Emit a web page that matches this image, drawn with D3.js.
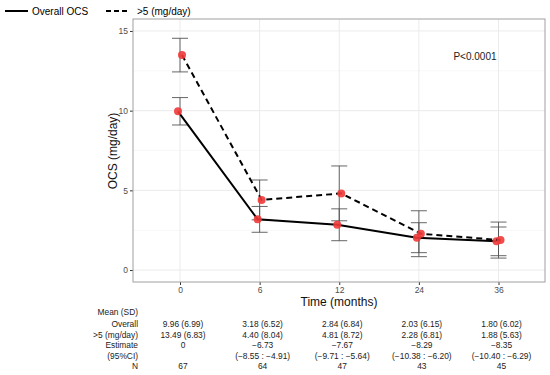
<!DOCTYPE html>
<html>
<head>
<meta charset="utf-8">
<script src="https://cdnjs.cloudflare.com/ajax/libs/d3/7.8.5/d3.min.js"></script>
<style>
  body { margin: 0; background: #fff; }
  text { font-family: "Liberation Sans", Arial, sans-serif; }
</style>
</head>
<body>
<div id="chart"></div>
<script>
// data
var months = ["0", "6", "12", "24", "36"];
var overallMean = [9.96, 3.18, 2.84, 2.03, 1.80];
var overallLo = [9.10, 2.37, 1.84, 1.09, 0.90];
var overallHi = [10.82, 3.99, 3.84, 2.97, 2.70];
var highMean = [13.49, 4.40, 4.81, 2.28, 1.88];
var highLo = [12.43, 3.15, 3.09, 0.84, 0.75];
var highHi = [14.54, 5.65, 6.53, 3.72, 3.01];
var yTicks = [0, 5, 10, 15];
var yMinor = [2.5, 7.5, 12.5];

// table under the plot
var rowLabels = ["Mean (SD)", "Overall", ">5 (mg/day)", "Estimate", "(95%CI)", "N"];
var overallCol = ["9.96 (6.99)", "3.18 (6.52)", "2.84 (6.84)", "2.03 (6.15)", "1.80 (6.02)"];
var highCol = ["13.49 (6.83)", "4.40 (8.04)", "4.81 (8.72)", "2.28 (6.81)", "1.88 (5.63)"];
var estimateCol = ["0", "\u22126.73", "\u22127.67", "\u22128.29", "\u22128.35"];
var ciCol = ["", "(\u22128.55 : \u22124.91)", "(\u22129.71 : \u22125.64)", "(\u221210.38 : \u22126.20)", "(\u221210.40 : \u22126.29)"];
var nCol = ["67", "64", "47", "43", "45"];

var width = 550;
var height = 375;
var pLeft = 133, pRight = 545, pTop = 19, pBottom = 282;

var svg = d3.select('#chart')
  .append('svg')
  .attr('width', width)
  .attr('height', height);

var x = d3.scalePoint()
  .domain(months)
  .range([180, 498.5]);

var y = d3.scaleLinear()
  .domain([-0.75, 15.75])
  .range([pBottom, pTop]);

// grid
var grid = svg.append('g');
grid.selectAll('.minor')
  .data(yMinor)
  .enter()
  .append('line')
  .attr('x1', pLeft).attr('x2', pRight)
  .attr('y1', function(d) { return y(d); })
  .attr('y2', function(d) { return y(d); })
  .attr('stroke', '#f2f2f2')
  .attr('stroke-width', 0.6);
grid.selectAll('.major')
  .data(yTicks)
  .enter()
  .append('line')
  .attr('x1', pLeft).attr('x2', pRight)
  .attr('y1', function(d) { return y(d); })
  .attr('y2', function(d) { return y(d); })
  .attr('stroke', '#ebebeb')
  .attr('stroke-width', 1);
grid.selectAll('.vert')
  .data(months)
  .enter()
  .append('line')
  .attr('x1', function(d) { return x(d); })
  .attr('x2', function(d) { return x(d); })
  .attr('y1', pTop).attr('y2', pBottom)
  .attr('stroke', '#ebebeb')
  .attr('stroke-width', 1);

// axes
var yAxis = svg.append('g')
  .attr('transform', 'translate(' + pLeft + ',0)')
  .call(d3.axisLeft(y).tickValues(yTicks).tickSize(3).tickPadding(2));
var xAxis = svg.append('g')
  .attr('transform', 'translate(0,' + pBottom + ')')
  .call(d3.axisBottom(x).tickSize(3).tickPadding(2));
[yAxis, xAxis].forEach(function(a) {
  a.select('.domain').remove();
  a.selectAll('line').attr('stroke', '#333');
  a.selectAll('text')
    .attr('fill', '#4d4d4d')
    .style('font-size', '8.5px')
    .style('font-family', '"Liberation Sans", Arial, sans-serif');
});

svg.append('rect')
  .attr('x', pLeft).attr('y', pTop)
  .attr('width', pRight - pLeft).attr('height', pBottom - pTop)
  .attr('fill', 'none')
  .attr('stroke', '#a0a0a0')
  .attr('stroke-width', 1);

// error bars
function errorBars(lo, hi) {
  var g = svg.append('g').attr('stroke', '#555').attr('stroke-width', 0.9);
  months.forEach(function(m, i) {
    var cx = x(m);
    g.append('line').attr('x1', cx).attr('x2', cx).attr('y1', y(lo[i])).attr('y2', y(hi[i]));
    g.append('line').attr('x1', cx - 8).attr('x2', cx + 8).attr('y1', y(lo[i])).attr('y2', y(lo[i]));
    g.append('line').attr('x1', cx - 8).attr('x2', cx + 8).attr('y1', y(hi[i])).attr('y2', y(hi[i]));
  });
}
errorBars(overallLo, overallHi);
errorBars(highLo, highHi);

function drawSeries(values, shift, dash) {
  var line = d3.line()
    .x(function(d, i) { return x(months[i]) + shift; })
    .y(function(d) { return y(d); });
  svg.append('path')
    .datum(values)
    .attr('d', line)
    .attr('fill', 'none')
    .attr('stroke', '#000')
    .attr('stroke-width', 2)
    .attr('stroke-dasharray', dash);
  svg.selectAll(null)
    .data(values)
    .enter()
    .append('circle')
    .attr('cx', function(d, i) { return x(months[i]) + shift; })
    .attr('cy', function(d) { return y(d); })
    .attr('r', 4)
    .attr('fill', '#f03a3a')
    .attr('fill-opacity', 0.9);
}
drawSeries(overallMean, -2, null);
drawSeries(highMean, 2, '6,4');

svg.append('text')
  .attr('x', 475).attr('y', 60)
  .attr('text-anchor', 'middle')
  .style('font-size', '10px')
  .attr('fill', '#222')
  .text('P<0.0001');

// titles
svg.append('text')
  .attr('x', (pLeft + pRight) / 2).attr('y', 305.5)
  .attr('text-anchor', 'middle')
  .style('font-size', '12px')
  .attr('fill', '#111')
  .text('Time (months)');
svg.append('text')
  .attr('transform', 'translate(117,151) rotate(-90)')
  .attr('text-anchor', 'middle')
  .style('font-size', '12px')
  .attr('fill', '#111')
  .text('OCS (mg/day)');

// legend
var legend = svg.append('g');
legend.append('line')
  .attr('x1', 5).attr('x2', 28).attr('y1', 11).attr('y2', 11)
  .attr('stroke', '#000').attr('stroke-width', 2);
legend.append('text')
  .attr('x', 32).attr('y', 14.5)
  .style('font-size', '10px')
  .text('Overall OCS');
legend.append('line')
  .attr('x1', 106).attr('x2', 128).attr('y1', 11).attr('y2', 11)
  .attr('stroke', '#000').attr('stroke-width', 2)
  .attr('stroke-dasharray', '5,3');
legend.append('text')
  .attr('x', 137).attr('y', 14.5)
  .style('font-size', '10px')
  .text('>5 (mg/day)');

// table
var rowY = [315, 327, 337.5, 348, 358.5, 369];
var table = svg.append('g').style('font-size', '8.4px').attr('fill', '#222');
rowLabels.forEach(function(r, i) {
  table.append('text')
    .attr('x', 138).attr('y', rowY[i])
    .attr('text-anchor', 'end')
    .text(r);
});
[overallCol, highCol, estimateCol, ciCol, nCol].forEach(function(col, j) {
  col.forEach(function(t, i) {
    table.append('text')
      .attr('x', x(months[i]) + 3).attr('y', rowY[j + 1])
      .attr('text-anchor', 'middle')
      .text(t);
  });
});
</script>
</body>
</html>
